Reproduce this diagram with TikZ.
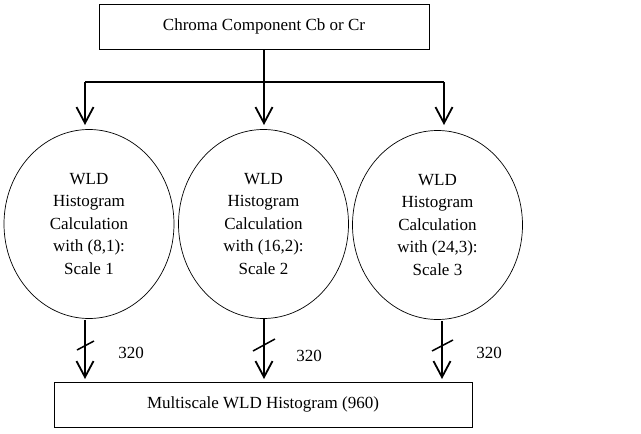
\documentclass[tikz,border=0pt]{standalone}
\usepackage{fontspec}
\setmainfont{Liberation Serif}
\usetikzlibrary{arrows.meta,shapes.geometric}
\begin{document}
\begin{tikzpicture}[x=1pt,y=-1pt,
  every node/.style={font=\fontsize{17}{22.5}\selectfont},
  boxnode/.style={draw,line width=0.8pt,rectangle,inner sep=0pt},
  ellnode/.style={draw,line width=0.7pt,ellipse,inner sep=0pt,minimum width=170pt,minimum height=189pt,align=center},
  conn/.style={line width=1.8pt},
  arr/.style={line width=1.8pt,-{Straight Barb[length=16pt,width=17pt,line width=1.8pt]}},
  slash/.style={line width=1.5pt},
  lbl/.style={inner sep=0pt}]
\useasboundingbox (0,0) rectangle (641,434);
\node[boxnode,minimum width=330pt,minimum height=45pt] (top) at (264,26.5) {Chroma Component Cb or Cr};
\node[ellnode] (e1) at (89,224) {WLD\\Histogram\\Calculation\\with (8,1):\\Scale 1};
\node[ellnode] (e2) at (263.5,224) {WLD\\Histogram\\Calculation\\with (16,2):\\Scale 2};
\node[ellnode] (e3) at (437.5,225) {WLD\\Histogram\\Calculation\\with (24,3):\\Scale 3};
\node[boxnode,minimum width=418pt,minimum height=45pt] (bot) at (263,404.5) {Multiscale WLD Histogram (960)};
% top fan-out
\coordinate (hm) at (264,82);
\coordinate (hl) at (85,82);
\coordinate (hr) at (444,82);
\coordinate (tl) at (85,125);
\coordinate (tm) at (264,125);
\coordinate (tr) at (444,125);
\draw[conn] (top.south) -- (hm);
\draw[conn] (hl) -- (hr);
\draw[arr] (hl) -- (tl);
\draw[arr] (hm) -- (tm);
\draw[arr] (hr) -- (tr);
% bottom arrows
\coordinate (sl) at (85,320);
\coordinate (sm) at (264,319);
\coordinate (sr) at (442,321);
\coordinate (bl) at (85,379);
\coordinate (bm) at (264,379);
\coordinate (br) at (442,379);
\draw[arr] (sl) -- (bl);
\draw[arr] (sm) -- (bm);
\draw[arr] (sr) -- (br);
% slash marks
\coordinate (a1) at (77,350); \coordinate (a2) at (94,341);
\coordinate (b1) at (253,351); \coordinate (b2) at (275,339);
\coordinate (c1) at (432,351); \coordinate (c2) at (453,340);
\draw[slash] (a1) -- (a2);
\draw[slash] (b1) -- (b2);
\draw[slash] (c1) -- (c2);
\node[lbl] (n1) at (131,353) {320};
\node[lbl] (n2) at (309,356) {320};
\node[lbl] (n3) at (489,353) {320};
\end{tikzpicture}
\end{document}
